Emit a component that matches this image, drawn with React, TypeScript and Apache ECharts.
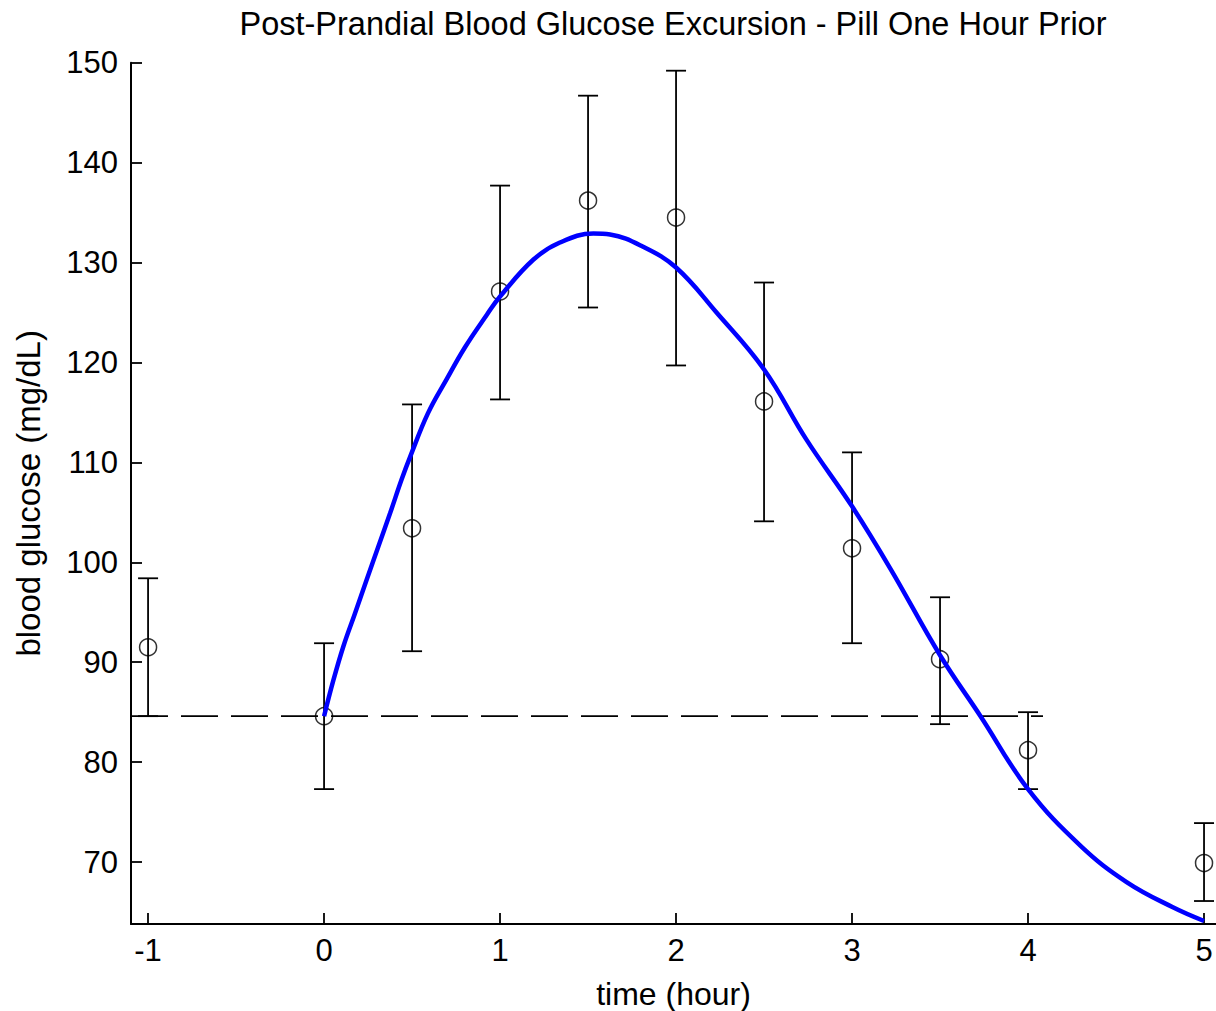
import React, { useEffect, useRef } from "react";
import * as echarts from "echarts";

// ---- Data ----
const titleText = "Post-Prandial Blood Glucose Excursion - Pill One Hour Prior";
const xName = "time (hour)";
const yName = "blood glucose (mg/dL)";

const xTicks = [-1, 0, 1, 2, 3, 4, 5];
const yTicks = [70, 80, 90, 100, 110, 120, 130, 140, 150];
const xMin = -1.097;
const xMax = 5.068;
const yMin = 63.8;
const yMax = 150;

// measured points (mean with error bars)
const times = [-1, 0, 0.5, 1, 1.5, 2, 2.5, 3, 3.5, 4, 5];
const means = [91.5, 84.6, 103.4, 127.1, 136.2, 134.5, 116.1, 101.4, 90.3, 81.2, 69.9];
const upper = [98.4, 91.9, 115.8, 137.7, 146.7, 149.2, 128.0, 111.0, 96.5, 85.0, 73.9];
const lower = [84.6, 77.3, 91.1, 116.3, 125.5, 119.7, 104.1, 91.9, 83.8, 77.3, 66.1];

// fitted curve
const curveT = [0, 0.053, 0.11, 0.176, 0.243, 0.309, 0.375, 0.441, 0.49, 0.59, 0.696, 0.8, 0.926, 1.0, 1.19, 1.34, 1.53, 1.625, 1.81, 2.0, 2.23, 2.5, 2.74, 3.0, 3.22, 3.5, 3.73, 4.0, 4.3, 4.56, 4.82, 5.0];
const curveV = [84.6, 88.2, 91.6, 94.9, 98.3, 101.6, 104.9, 108.3, 110.6, 114.9, 118.3, 121.5, 124.8, 126.6, 130.3, 132.0, 132.9, 132.8, 131.6, 129.5, 125.0, 119.3, 112.3, 105.6, 99.3, 90.7, 84.6, 77.3, 71.6, 68.0, 65.5, 64.1];

// baseline (dashed)
const baselineValue = 84.6;
const baselineEnd = 4.085;

const FONT = "'Liberation Sans', Arial, Helvetica, sans-serif";

export default function App() {
  const ref = useRef<HTMLDivElement>(null);
  useEffect(() => {
    const chart = echarts.init(ref.current as HTMLDivElement, null, { renderer: "svg" });
    const option: any = {
      animation: false,
      backgroundColor: "#fff",
      graphic: [
        {
          type: "text",
          x: 673,
          y: 24,
          style: {
            text: titleText,
            align: "center",
            verticalAlign: "middle",
            fontSize: 32.5,
            fontFamily: FONT,
            fill: "#000",
          },
        },
      ],
      grid: { left: 131, right: 0, top: 62.7, bottom: 87, containLabel: false, outerBoundsMode: "none" },
      xAxis: {
        type: "value",
        min: xMin,
        max: xMax,
        name: xName,
        nameLocation: "middle",
        nameGap: 54,
        nameTextStyle: { fontSize: 32, fontFamily: FONT, color: "#000" },
        axisLine: { show: true, onZero: false, lineStyle: { color: "#000", width: 2 } },
        axisTick: { show: true, inside: true, length: 11, customValues: xTicks, lineStyle: { color: "#000", width: 1.8 } },
        axisLabel: { show: true, margin: 11, fontSize: 31, fontFamily: FONT, color: "#000", customValues: xTicks },
        splitLine: { show: false },
      },
      yAxis: {
        type: "value",
        min: yMin,
        max: yMax,
        name: yName,
        nameLocation: "middle",
        nameGap: 86,
        nameTextStyle: { fontSize: 33, fontFamily: FONT, color: "#000" },
        axisLine: { show: true, onZero: false, lineStyle: { color: "#000", width: 2 } },
        axisTick: { show: true, inside: true, length: 11, customValues: yTicks, lineStyle: { color: "#000", width: 1.8 } },
        axisLabel: { show: true, margin: 13, fontSize: 31, fontFamily: FONT, color: "#000", customValues: yTicks },
        splitLine: { show: false },
      },
      series: [
        {
          type: "line",
          data: [
            [xMin, baselineValue],
            [baselineEnd, baselineValue],
          ],
          symbol: "none",
          lineStyle: { color: "#000", width: 1.8, type: [37, 13] },
          z: 2,
          silent: true,
        },
        {
          type: "custom",
          data: times.map((t, i) => [t, lower[i], upper[i]]),
          encode: { x: 0, y: [1, 2] },
          clip: false,
          z: 3,
          renderItem: (params: any, api: any) => {
            const x = api.value(0);
            const lo = api.value(1);
            const hi = api.value(2);
            const top = api.coord([x, hi]);
            const bot = api.coord([x, lo]);
            const hw = 10;
            const st = { stroke: "#000", lineWidth: 1.8 };
            return {
              type: "group",
              children: [
                { type: "line", shape: { x1: top[0], y1: top[1], x2: bot[0], y2: bot[1] }, style: st },
                { type: "line", shape: { x1: top[0] - hw, y1: top[1], x2: top[0] + hw, y2: top[1] }, style: st },
                { type: "line", shape: { x1: bot[0] - hw, y1: bot[1], x2: bot[0] + hw, y2: bot[1] }, style: st },
              ],
            };
          },
        },
        {
          type: "scatter",
          data: times.map((t, i) => [t, means[i]]),
          symbol: "circle",
          symbolSize: 17,
          itemStyle: { color: "rgba(0,0,0,0)", borderColor: "#000", borderWidth: 1.5 },
          z: 4,
        },
        {
          type: "line",
          data: curveT.map((t, i) => [t, curveV[i]]),
          symbol: "none",
          smooth: 0.4,
          lineStyle: { color: "#0000ff", width: 4.5 },
          z: 5,
        },
      ],
    };
    chart.setOption(option);
    return () => chart.dispose();
  }, []);
  return (
    <div
      ref={ref}
      style={{ position: "absolute", left: 0, top: 0, width: 1216, height: 1011, background: "#fff" }}
    />
  );
}
